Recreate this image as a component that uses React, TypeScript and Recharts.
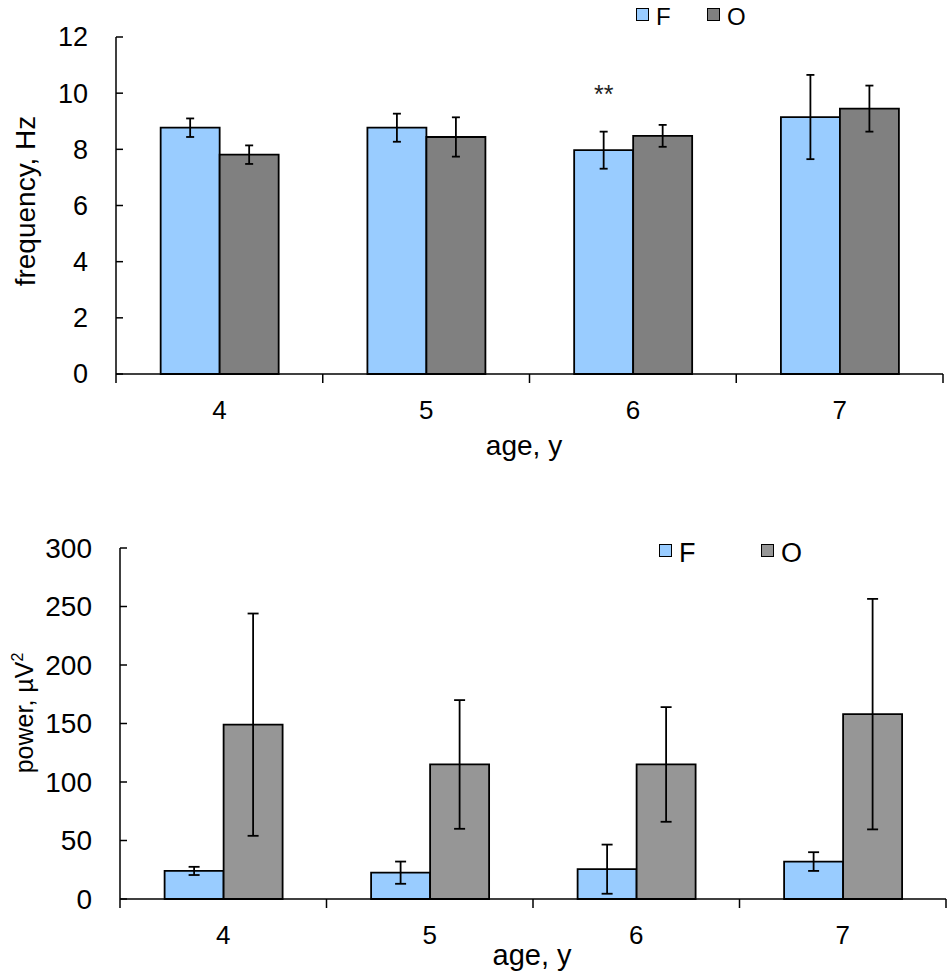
import React from "react";
import { BarChart, Bar, XAxis, YAxis, ErrorBar, LabelList, Legend, Label } from "recharts";

const ages = ["4", "5", "6", "7"];

// frequency panel
const freqF = [8.77, 8.77, 7.97, 9.15];
const freqFErr = [0.33, 0.5, 0.66, 1.5];
const freqO = [7.81, 8.44, 8.48, 9.45];
const freqOErr = [0.33, 0.7, 0.39, 0.82];
const freqMarks = ["", "", "**", ""];
const freqTicks = [0, 2, 4, 6, 8, 10, 12];

// power panel
const powerF = [24, 22.5, 25.5, 32];
const powerFErr = [3.5, 9.5, 21, 8];
const powerO = [149, 115, 115, 158];
const powerOErr = [95, 55, 49, 98.5];
const powerTicks = [0, 50, 100, 150, 200, 250, 300];

const FONT = '"Liberation Sans", Arial, sans-serif';
const BLUE = "#99ccff";
const W = 950;

const freqData = ages.map((age, i) => ({
  age,
  F: freqF[i],
  fErr: freqFErr[i],
  O: freqO[i],
  oErr: freqOErr[i],
  mark: freqMarks[i],
}));

const powerData = ages.map((age, i) => ({
  age,
  F: powerF[i],
  fErr: powerFErr[i],
  O: powerO[i],
  oErr: powerOErr[i],
}));

function makeXTick(band: number, fontSize: number) {
  return function XTick(props: any) {
    const { x, y, payload } = props;
    const isLast = payload.value === ages[ages.length - 1];
    return (
      <g>
        <line x1={x - band / 2} x2={x - band / 2} y1={y} y2={y + 9} stroke="#000" strokeWidth={1.5} />
        {isLast && (
          <line x1={x + band / 2} x2={x + band / 2} y1={y} y2={y + 9} stroke="#000" strokeWidth={1.5} />
        )}
        <text x={x} y={y + 45} textAnchor="middle" fontSize={fontSize} fontFamily={FONT} fill="#000">
          {payload.value}
        </text>
      </g>
    );
  };
}

function makeYTick(fontSize: number) {
  return function YTick(props: any) {
    const { x, y, payload } = props;
    return (
      <g>
        <line x1={x} x2={x + 7} y1={y} y2={y} stroke="#000" strokeWidth={1.5} />
        <text x={x - 28} y={y} dy="0.35em" textAnchor="end" fontSize={fontSize} fontFamily={FONT} fill="#000">
          {payload.value}
        </text>
      </g>
    );
  };
}

function makeLegend(left: number, itemWidth: number, fontSize: number) {
  return function LegendBox(props: any) {
    const items = props.payload || [];
    return (
      <div style={{ display: "flex", marginLeft: left, fontFamily: FONT, fontSize, lineHeight: 1 }}>
        {items.map((it: any) => (
          <div key={it.value} style={{ display: "flex", alignItems: "center", width: itemWidth }}>
            <span
              style={{
                display: "inline-block",
                width: 11,
                height: 11,
                background: it.color,
                border: "1.5px solid #000",
                marginRight: 7,
              }}
            />
            <span style={{ position: "relative", top: 3 }}>{it.value}</span>
          </div>
        ))}
      </div>
    );
  };
}

export default function App() {
  const topMargin = { top: 37, right: 7, left: 0, bottom: 0 };
  const topBand = (W - 116 - topMargin.right) / ages.length;
  const botMargin = { top: 68, right: 4, left: 0, bottom: 0 };
  const botBand = (W - 120 - botMargin.right) / ages.length;

  return (
    <div style={{ position: "absolute", left: 0, top: 0, width: W, height: 974, background: "#fff" }}>
      <div style={{ position: "absolute", left: 0, top: 0 }}>
        <BarChart width={W} height={480} data={freqData} margin={topMargin} barCategoryGap="21.6%" barGap={0}>
          <XAxis
            dataKey="age"
            height={106}
            axisLine={{ stroke: "#000", strokeWidth: 1.5 }}
            tickLine={false}
            tickSize={0}
            tickMargin={0}
            tick={makeXTick(topBand, 26)}
          >
            <Label
              content={() => (
                <text x={524} y={455} textAnchor="middle" fontSize={28} fontFamily={FONT} fill="#000">
                  age, y
                </text>
              )}
            />
          </XAxis>
          <YAxis
            width={116}
            domain={[0, 12]}
            ticks={freqTicks}
            interval={0}
            axisLine={{ stroke: "#000", strokeWidth: 1.5 }}
            tickLine={false}
            tickSize={0}
            tickMargin={0}
            tick={makeYTick(27)}
          >
            <Label
              content={() => (
                <text
                  x={25}
                  y={201}
                  transform="rotate(-90 25 201)"
                  textAnchor="middle"
                  dominantBaseline="central"
                  fontSize={28}
                  fontFamily={FONT}
                  fill="#000"
                >
                  frequency, Hz
                </text>
              )}
            />
          </YAxis>
          <Legend
            layout="horizontal"
            verticalAlign="middle"
            align="center"
            wrapperStyle={{ top: 2, left: 0, width: W }}
            content={makeLegend(636, 71, 24)}
          />
          <Bar dataKey="F" name="F" fill={BLUE} stroke="#000" strokeWidth={1.8} isAnimationActive={false}>
            <ErrorBar dataKey="fErr" width={4} stroke="#000" strokeWidth={1.8} />
            <LabelList dataKey="mark" position="top" offset={47} fontSize={25} fontFamily={FONT} fill="#222" />
          </Bar>
          <Bar dataKey="O" name="O" fill="#808080" stroke="#000" strokeWidth={1.8} isAnimationActive={false}>
            <ErrorBar dataKey="oErr" width={4} stroke="#000" strokeWidth={1.8} />
          </Bar>
        </BarChart>
      </div>

      <div style={{ position: "absolute", left: 0, top: 480 }}>
        <BarChart width={W} height={494} data={powerData} margin={botMargin} barCategoryGap="21.6%" barGap={0}>
          <XAxis
            dataKey="age"
            height={75}
            axisLine={{ stroke: "#000", strokeWidth: 1.5 }}
            tickLine={false}
            tickSize={0}
            tickMargin={0}
            tick={makeXTick(botBand, 26)}
          >
            <Label
              content={() => (
                <text x={532} y={485} textAnchor="middle" fontSize={29} fontFamily={FONT} fill="#000">
                  age, y
                </text>
              )}
            />
          </XAxis>
          <YAxis
            width={120}
            domain={[0, 300]}
            ticks={powerTicks}
            interval={0}
            axisLine={{ stroke: "#000", strokeWidth: 1.5 }}
            tickLine={false}
            tickSize={0}
            tickMargin={0}
            tick={makeYTick(28)}
          >
            <Label
              content={() => (
                <text
                  x={24}
                  y={233}
                  transform="rotate(-90 24 233)"
                  textAnchor="middle"
                  dominantBaseline="central"
                  fontSize={25}
                  fontFamily={FONT}
                  fill="#000"
                >
                  power, µV
                  <tspan dy="-0.45em" fontSize={16}>
                    2
                  </tspan>
                </text>
              )}
            />
          </YAxis>
          <Legend
            layout="horizontal"
            verticalAlign="middle"
            align="center"
            wrapperStyle={{ top: 57, left: 0, width: W }}
            content={makeLegend(659, 102, 27)}
          />
          <Bar dataKey="F" name="F" fill={BLUE} stroke="#000" strokeWidth={1.8} isAnimationActive={false}>
            <ErrorBar dataKey="fErr" width={5.5} stroke="#000" strokeWidth={1.8} />
          </Bar>
          <Bar dataKey="O" name="O" fill="#969696" stroke="#000" strokeWidth={1.8} isAnimationActive={false}>
            <ErrorBar dataKey="oErr" width={5.5} stroke="#000" strokeWidth={1.8} />
          </Bar>
        </BarChart>
      </div>
    </div>
  );
}
